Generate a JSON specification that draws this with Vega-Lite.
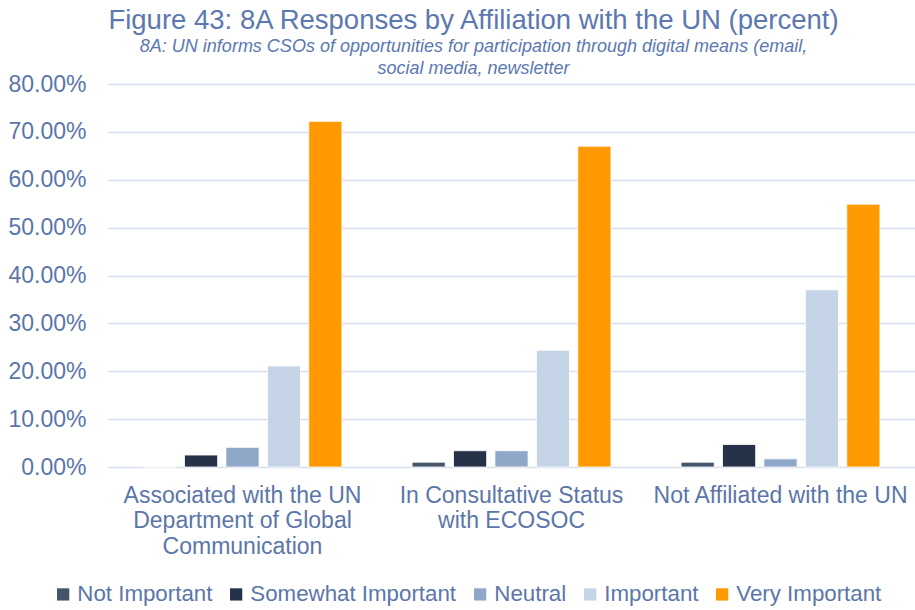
{
  "$schema": "https://vega.github.io/schema/vega-lite/v6.json",
  "width": 807,
  "height": 383,
  "autosize": {"type": "none"},
  "padding": {"left": 108, "top": 84, "right": 0, "bottom": 143},
  "background": "white",
  "title": {
    "text": "Figure 43: 8A Responses by Affiliation with the UN (percent)",
    "subtitle": ["8A: UN informs CSOs of opportunities for participation through digital means (email,", "social media, newsletter"],
    "anchor": "middle",
    "dx": -38,
    "offset": -5,
    "font": "Liberation Sans",
    "fontSize": 27.5,
    "fontWeight": "normal",
    "color": "#5B78B0",
    "subtitleFont": "Liberation Sans",
    "subtitleFontStyle": "italic",
    "subtitleFontSize": 18,
    "subtitleColor": "#5B78B0",
    "subtitlePadding": 4,
    "subtitleLineHeight": 22
  },
  "data": {
    "values": [
      {"group": "Associated with the UN Department of Global Communication", "response": "Not Important", "value": 0},
      {"group": "Associated with the UN Department of Global Communication", "response": "Somewhat Important", "value": 0.025},
      {"group": "Associated with the UN Department of Global Communication", "response": "Neutral", "value": 0.041},
      {"group": "Associated with the UN Department of Global Communication", "response": "Important", "value": 0.211},
      {"group": "Associated with the UN Department of Global Communication", "response": "Very Important", "value": 0.722},
      {"group": "In Consultative Status with ECOSOC", "response": "Not Important", "value": 0.010},
      {"group": "In Consultative Status with ECOSOC", "response": "Somewhat Important", "value": 0.034},
      {"group": "In Consultative Status with ECOSOC", "response": "Neutral", "value": 0.034},
      {"group": "In Consultative Status with ECOSOC", "response": "Important", "value": 0.244},
      {"group": "In Consultative Status with ECOSOC", "response": "Very Important", "value": 0.670},
      {"group": "Not Affiliated with the UN", "response": "Not Important", "value": 0.010},
      {"group": "Not Affiliated with the UN", "response": "Somewhat Important", "value": 0.047},
      {"group": "Not Affiliated with the UN", "response": "Neutral", "value": 0.017},
      {"group": "Not Affiliated with the UN", "response": "Important", "value": 0.370},
      {"group": "Not Affiliated with the UN", "response": "Very Important", "value": 0.549}
    ]
  },
  "mark": {"type": "bar", "stroke": "white", "strokeWidth": 0.8},
  "encoding": {
    "x": {
      "field": "group",
      "type": "nominal",
      "sort": null,
      "scale": {"paddingInner": 0.23, "paddingOuter": 0.115},
      "axis": {
        "title": null,
        "labelAngle": 0,
        "labelFont": "Liberation Sans",
        "labelFontSize": 23,
        "labelColor": "#5B76A8",
        "labelPadding": 17,
        "labelLineHeight": 25.5,
        "labelBaseline": "top",
        "labelLimit": 0,
        "ticks": false,
        "domain": false,
        "labelExpr": "datum.label == 'Associated with the UN Department of Global Communication' ? ['Associated with the UN', 'Department of Global', 'Communication'] : datum.label == 'In Consultative Status with ECOSOC' ? ['In Consultative Status', 'with ECOSOC'] : datum.label"
      }
    },
    "xOffset": {
      "field": "response",
      "type": "nominal",
      "sort": ["Not Important", "Somewhat Important", "Neutral", "Important", "Very Important"],
      "scale": {"paddingInner": 0.2, "paddingOuter": 0.1}
    },
    "y": {
      "field": "value",
      "type": "quantitative",
      "scale": {"domain": [0, 0.8], "nice": false},
      "axis": {
        "title": null,
        "values": [0, 0.1, 0.2, 0.3, 0.4, 0.5, 0.6, 0.7, 0.8],
        "format": ".2%",
        "labelFont": "Liberation Sans",
        "labelFontSize": 23,
        "labelColor": "#5B76A8",
        "labelPadding": 22,
        "ticks": false,
        "domain": false,
        "grid": true,
        "gridColor": "#D9DEEC",
        "gridWidth": 1.3
      }
    },
    "color": {
      "field": "response",
      "type": "nominal",
      "scale": {
        "domain": ["Not Important", "Somewhat Important", "Neutral", "Important", "Very Important"],
        "range": ["#44546A", "#263248", "#8FA8C8", "#C6D4E7", "#FF9900"]
      },
      "legend": {
        "title": null,
        "orient": "none",
        "direction": "horizontal",
        "legendX": -56,
        "legendY": 499,
        "symbolType": "square",
        "symbolSize": 150,
        "symbolStrokeWidth": 0,
        "labelFont": "Liberation Sans",
        "labelFontSize": 22.3,
        "labelColor": "#5B76A8",
        "labelOffset": 3,
        "columnPadding": 12,
        "labelLimit": 0
      }
    }
  },
  "config": {"view": {"stroke": null}}
}
